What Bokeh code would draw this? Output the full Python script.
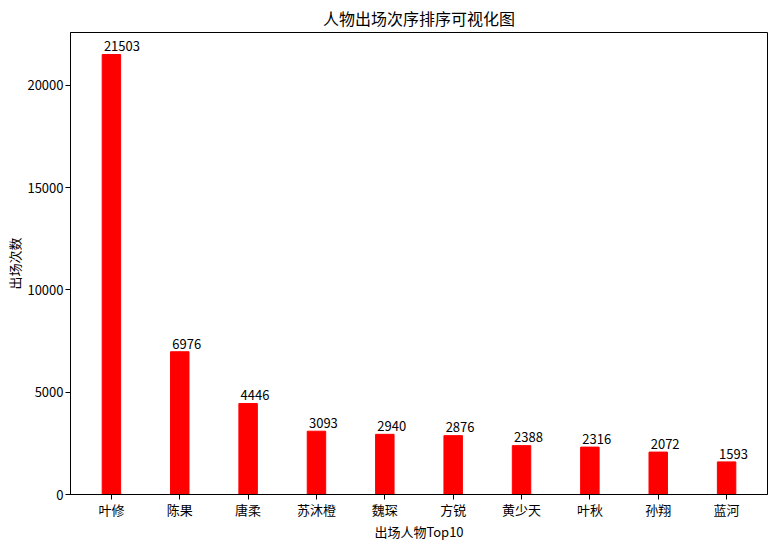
from bokeh.plotting import figure
from bokeh.models import Range1d, FixedTicker, ColumnDataSource
from bokeh.core.properties import value
from bokeh.embed import file_html
from bokeh.resources import INLINE

names = ["叶修", "陈果", "唐柔", "苏沐橙", "魏琛", "方锐", "黄少天", "叶秋", "孙翔", "蓝河"]
counts = [21503, 6976, 4446, 3093, 2940, 2876, 2388, 2316, 2072, 1593]
y_ticks = [0, 5000, 10000, 15000, 20000]

FONT = "Noto Sans CJK SC"
bar_w = 0.27
xs = list(range(len(names)))
n = len(names)
pad = 0.05 * (n - 1 + bar_w)

src = ColumnDataSource(dict(
    x=xs, top=counts,
    lx=[x - 0.11 for x in xs],
    ly=[c + 400 for c in counts],
    lbl=[str(c) for c in counts],
))

p = figure(frame_width=697, frame_height=462, output_backend="svg", toolbar_location=None,
           x_range=Range1d(-bar_w / 2 - pad, n - 1 + bar_w / 2 + pad),
           y_range=Range1d(0, max(counts) * 1.05),
           min_border_left=70, min_border_right=2, min_border_top=30, min_border_bottom=38)

p.vbar(x="x", top="top", width=bar_w, bottom=0, source=src, fill_color="red", line_color="red")
p.text(x="lx", y="ly", text="lbl", source=src, text_font=value(FONT), text_font_size="13px",
       text_align="left", text_baseline="alphabetic", text_color="black")

p.title.text = "人物出场次序排序可视化图"
p.title.align = "center"
p.title.text_font = FONT
p.title.text_font_size = "16px"
p.title.text_font_style = "normal"
p.title.text_color = "black"
p.title.standoff = 6

p.xgrid.visible = False
p.ygrid.visible = False
p.outline_line_color = "black"
p.outline_line_alpha = 1
p.outline_line_width = 1

p.xaxis.ticker = FixedTicker(ticks=xs)
p.xaxis.major_label_overrides = {i: nm for i, nm in enumerate(names)}
p.yaxis.ticker = FixedTicker(ticks=y_ticks)
p.yaxis.formatter.use_scientific = False

for ax in (p.xaxis[0], p.yaxis[0]):
    ax.axis_line_color = "black"
    ax.major_tick_line_color = "black"
    ax.major_tick_out = 5
    ax.major_tick_in = 0
    ax.minor_tick_line_color = None
    ax.major_label_text_font = FONT
    ax.major_label_text_font_size = "13px"
    ax.major_label_text_color = "black"
    ax.axis_label_text_font = FONT
    ax.axis_label_text_font_size = "13px"
    ax.axis_label_text_font_style = "normal"
    ax.axis_label_text_color = "black"

p.xaxis.major_label_standoff = 0
p.yaxis.major_label_standoff = 2
p.xaxis.axis_label_standoff = 0
p.yaxis.axis_label_standoff = 0

p.xaxis.axis_label = "出场人物Top10"
p.yaxis.axis_label = "出场次数"

open("out.html", "w").write(file_html(p, INLINE))
